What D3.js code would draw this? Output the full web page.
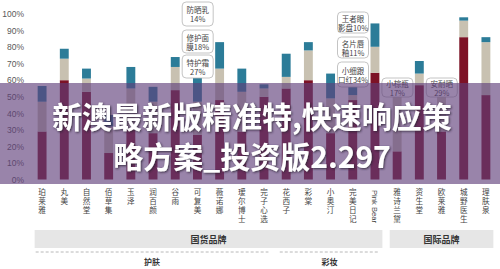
<!DOCTYPE html>
<html>
<head>
<meta charset="utf-8">
<script src="https://cdn.jsdelivr.net/npm/d3@7"></script>
<style>
  html, body { margin: 0; padding: 0; background: #fff; }
  svg { display: block; font-family: "Liberation Sans", "Noto Sans CJK SC", sans-serif; }
</style>
</head>
<body>
<svg id="chart"></svg>
<script>
// Brand names along the x axis
const brands = ['珀莱雅', '丸美', '自然堂', '佰草集', '玉泽', '润百颜', '谷雨', '可复美', '薇诺娜', '瑷尔博士', '完子心选',
    '花西子', '彩棠', '小奥汀', '完美日记', 'Pink Bear',
    '雅诗兰黛', '资生堂', '欧莱雅', '城野医生', '理肤泉'];

// Stacked shares (%): bottom, middle, top segment
const bottomShare = [29, 60, 53, 16, 30, 28, 54, 27, 48, 29, 50, 55, 60, 28, 48, 64.5, 17, 57, 29, 86, 51];
const midShare    = [18, 13, 8, 16, 25, 19, 14, 20, 19, 24, 5, 7, 18, 21, 3, 15.7, 36, 7, 25, 10, 32];
const topShare    = [9.5, 6, 6, 7, 13, 9, 6, 15, 16, 14, 2.5, 14, 5, 15, 10, 14.1, 4, 7.6, 5, 2, 3];

const yTicks = [0, 10, 20, 30, 40, 50, 60, 70, 80, 90, 100];

// Category groups (brand index ranges)
const categoryGroups = [
    { name: '护肤', from: 0, to: 10 },
    { name: '彩妆', from: 11, to: 15 }
];
const originGroups = [
    { name: '国货品牌', from: 0, to: 15 },
    { name: '国际品牌', from: 16, to: 20 }
];

// Top product callouts: brand, product, share
const callouts = [
    { brand: '薇诺娜', lines: ['防晒乳', '14%'] },
    { brand: '薇诺娜', lines: ['修护面', '膜18%'] },
    { brand: '薇诺娜', lines: ['特护霜', '27%'] },
    { brand: 'Pink Bear', lines: ['王者眼', '影盘10%'] },
    { brand: 'Pink Bear', lines: ['名片唇', '釉11%'] },
    { brand: 'Pink Bear', lines: ['小细跟', '口红34%'] },
    { brand: '资生堂', lines: ['小棕瓶', '17%'] },
    { brand: '城野医生', lines: ['安耐晒', '29%'] }
];
// Callout box placement (top, height) in pixels, same order as above
const calloutBoxes = [[2, 24], [30, 23], [55, 23], [12, 21], [37, 21], [62, 25], [78, 19], [78, 19]];

const COLORS = { bottom: '#7d1226', mid: '#c8c1b1', top: '#2c7c98' };

const width = 500, height = 269;
const svg = d3.select('#chart').attr('width', width).attr('height', height);

const rows = brands.map((b, i) => ({ brand: b, bottom: bottomShare[i], mid: midShare[i], top: topShare[i] }));

const x = d3.scaleBand()
    .domain(brands)
    .range([31, 497])
    .paddingInner(0.6)
    .paddingOuter(0.3);

const y = d3.scaleLinear().domain([0, 100]).range([179.5, 14]);

// Y axis (labels only)
const yAxis = svg.append('g')
    .attr('transform', 'translate(26,0)')
    .call(d3.axisLeft(y).tickValues(yTicks).tickSize(0).tickPadding(2).tickFormat(d => d + '%'));
yAxis.select('.domain').remove();
yAxis.selectAll('text').attr('fill', '#595959').attr('font-size', '8.5px')
    .attr('font-family', '"Liberation Sans", Arial, sans-serif');

// Stacked bars
const series = d3.stack().keys(['bottom', 'mid', 'top'])(rows);
svg.append('g').selectAll('g')
    .data(series)
    .join('g')
    .attr('fill', d => COLORS[d.key])
    .selectAll('rect')
    .data(d => d)
    .join('rect')
    .attr('x', d => x(d.data.brand))
    .attr('y', d => y(d[1]))
    .attr('width', x.bandwidth())
    .attr('height', d => y(d[0]) - y(d[1]));

// X labels: Chinese stacked one char per line, latin rotated
const xl = svg.append('g').attr('fill', '#444').attr('font-size', '7.6px');
brands.forEach(b => {
    const cx = x(b) + x.bandwidth() / 2;
    if (/^[\x00-\x7F]+$/.test(b)) {
        xl.append('text')
            .attr('transform', `translate(${cx - 3},190) rotate(90)`)
            .attr('font-family', '"Liberation Sans", Arial, sans-serif')
            .text(b);
    } else {
        const t = xl.append('text').attr('text-anchor', 'middle')
            .attr('font-family', '"Noto Sans CJK SC", sans-serif');
        Array.from(b).forEach((ch, k) => {
            t.append('tspan').attr('x', cx).attr('y', 195 + k * 9).text(ch);
        });
    }
});

// Callout boxes
const cg = svg.append('g');
callouts.forEach((c, i) => {
    const [top, h] = calloutBoxes[i];
    const right = x(c.brand) - 2;
    const w = 31;
    cg.append('rect')
        .attr('x', right - w).attr('y', top).attr('width', w).attr('height', h)
        .attr('rx', 4).attr('fill', '#fff').attr('stroke', '#b5b5b5').attr('stroke-width', 0.8);
    const t = cg.append('text').attr('text-anchor', 'middle').attr('fill', '#444')
        .attr('font-size', '7.5px').attr('font-family', '"Noto Sans CJK SC", sans-serif');
    c.lines.forEach((ln, k) => {
        t.append('tspan').attr('x', right - w / 2).attr('y', top + h / 2 - 1 + k * 9).text(ln);
    });
});

// Origin group boxes
const bandStart = i => x(brands[i]);
const bandEnd = i => x(brands[i]) + x.bandwidth();
originGroups.forEach(g => {
    const x0 = bandStart(g.from) - 3, x1 = bandEnd(g.to) + 3;
    svg.append('rect').attr('x', x0).attr('y', 230).attr('width', x1 - x0).attr('height', 18)
        .attr('fill', '#e6e6e6');
    svg.append('text').attr('x', (x0 + x1) / 2).attr('y', 242.5)
        .attr('text-anchor', 'middle').attr('font-size', '9px').attr('font-weight', 'bold')
        .attr('fill', '#333').attr('font-family', '"Noto Sans CJK SC", sans-serif')
        .text(g.name);
});

// Category dashed brackets
categoryGroups.forEach(g => {
    const x0 = bandStart(g.from) - 2, x1 = bandEnd(g.to);
    svg.append('line').attr('x1', x0).attr('x2', x1).attr('y1', 252).attr('y2', 252)
        .attr('stroke', '#b8b8b8').attr('stroke-width', 1).attr('stroke-dasharray', '3,2');
    svg.append('text').attr('x', (x0 + x1) / 2).attr('y', 264.5)
        .attr('text-anchor', 'middle').attr('font-size', '8px').attr('font-weight', 'bold')
        .attr('fill', '#333').attr('font-family', '"Noto Sans CJK SC", sans-serif')
        .text(g.name);
});

// Overlay banner
const defs = svg.append('defs');
const f = defs.append('filter').attr('id', 'shadow').attr('x', '-10%').attr('y', '-30%')
    .attr('width', '120%').attr('height', '160%');
f.append('feDropShadow').attr('dx', 1).attr('dy', 1).attr('stdDeviation', 1.2)
    .attr('flood-color', '#2a1a30').attr('flood-opacity', 0.85);

svg.append('rect').attr('x', 0).attr('y', 83).attr('width', width).attr('height', 101)
    .attr('fill', 'rgb(95,62,122)').attr('fill-opacity', 0.64);

const banner = ['新澳最新版精准特,快速响应策', '略方案_投资版2.297'];
svg.append('g').attr('filter', 'url(#shadow)')
    .selectAll('text')
    .data(banner)
    .join('text')
    .attr('x', 252)
    .attr('y', (d, i) => 128 + i * 40)
    .attr('text-anchor', 'middle')
    .attr('fill', '#fff')
    .attr('font-size', '30px')
    .attr('font-weight', 'bold')
    .attr('font-family', '"Noto Sans CJK SC", sans-serif')
    .text(d => d);
</script>
</body>
</html>
